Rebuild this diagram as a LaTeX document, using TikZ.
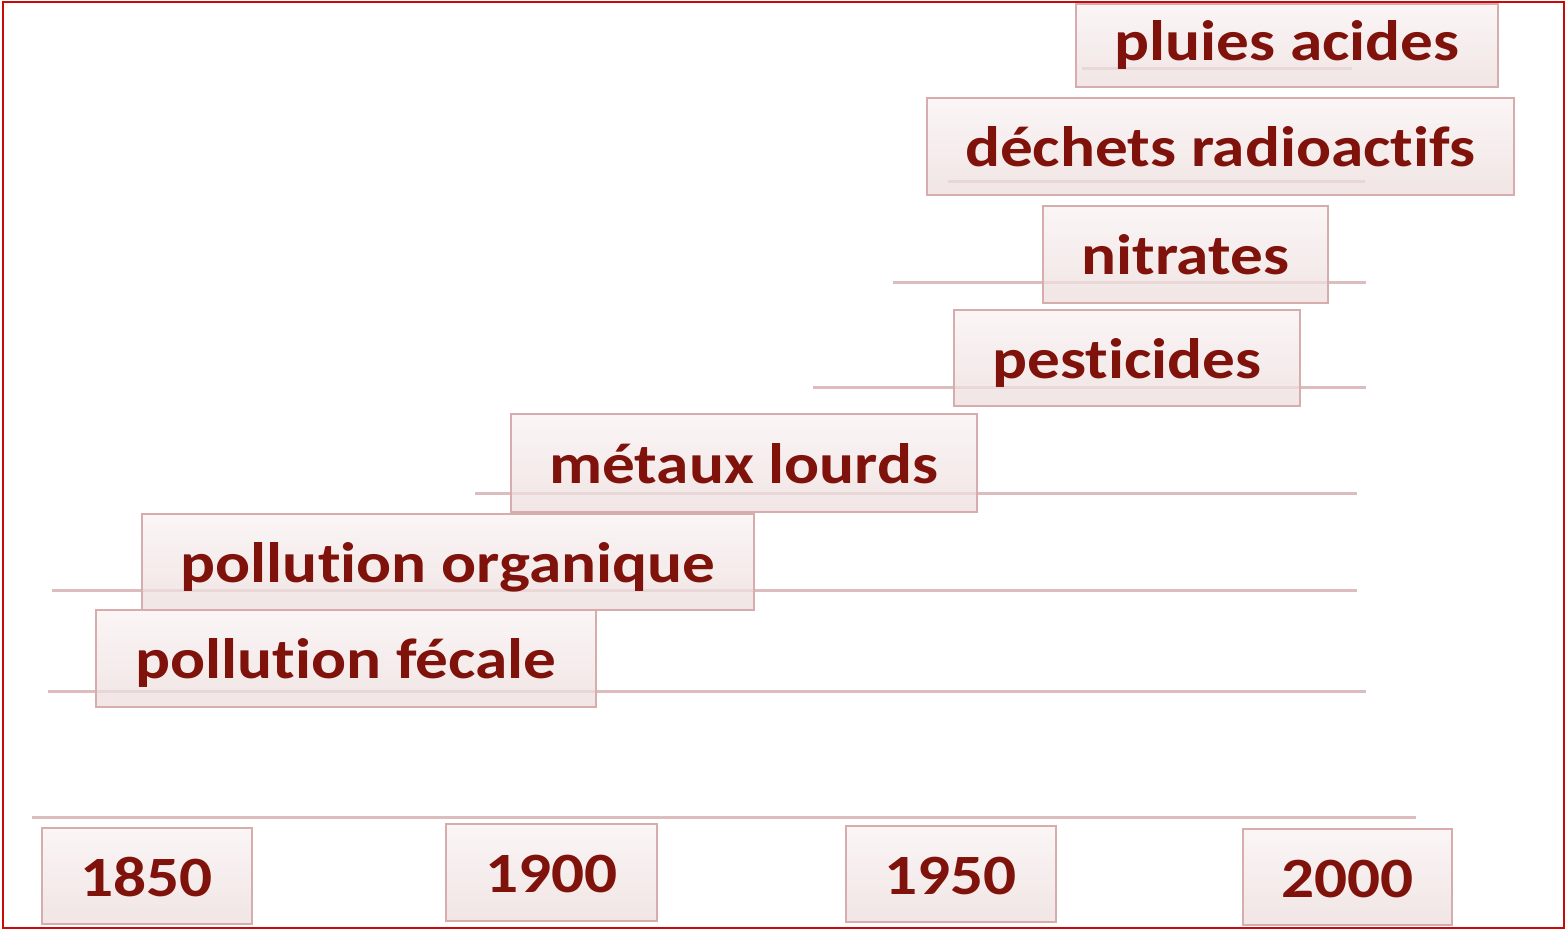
\documentclass[tikz,border=0pt]{standalone}
\usepackage{fontspec}
\setmainfont{Carlito}[FakeStretch=1.145, Ligatures=NoCommon]
\definecolor{txt}{RGB}{128,18,12}
\definecolor{boxborder}{RGB}{214,172,172}
\definecolor{topc}{RGB}{249,242,242}
\definecolor{botc}{RGB}{236,220,220}
\definecolor{linec}{RGB}{220,188,188}
\definecolor{framec}{RGB}{200,10,10}
\tikzset{
  lbl/.style={draw=boxborder, line width=1.6pt, top color=topc, bottom color=botc,
    fill opacity=0.75, draw opacity=1, text opacity=1, text=txt,
    font=\bfseries\fontsize{57}{60}\selectfont, inner sep=0pt,
    text height=47pt, text depth=6pt, anchor=north west, align=center},
  bar/.style={draw=linec, line width=3pt}
}
\begin{document}
\begin{tikzpicture}[x=1pt,y=-1pt]
\useasboundingbox (0,0) rectangle (1566,930);
% timeline bars (behind boxes)
\coordinate (a1) at (1082,68);  \coordinate (a2) at (1352,68);
\coordinate (b1) at (948,181);  \coordinate (b2) at (1365,181);
\coordinate (c1) at (893,282);  \coordinate (c2) at (1366,282);
\coordinate (d1) at (813,387);  \coordinate (d2) at (1366,387);
\coordinate (e1) at (475,493);  \coordinate (e2) at (1357,493);
\coordinate (f1) at (52,590);   \coordinate (f2) at (1357,590);
\coordinate (g1) at (48,691);   \coordinate (g2) at (1366,691);
\coordinate (t1) at (32,817);   \coordinate (t2) at (1416,817);
\foreach \s/\e in {a1/a2,b1/b2,c1/c2,d1/d2,e1/e2,f1/f2,g1/g2,t1/t2}
  \draw[bar] (\s) -- (\e);
% boxes
\node[lbl, minimum width=422pt, minimum height=83pt, text depth=16pt] (pluies) at (1075,3) {pluies acides};
\node[lbl, minimum width=587pt, minimum height=97pt] (dechets) at (926,97) {déchets radioactifs};
\node[lbl, minimum width=285pt, minimum height=97pt] (nitrates) at (1042,205) {nitrates};
\node[lbl, minimum width=346pt, minimum height=96pt] (pesticides) at (953,309) {pesticides};
\node[lbl, minimum width=466pt, minimum height=98pt] (metaux) at (510,413) {métaux lourds};
\node[lbl, minimum width=612pt, minimum height=96pt] (organique) at (141,513) {pollution organique};
\node[lbl, minimum width=500pt, minimum height=97pt] (fecale) at (95,609) {pollution fécale};
\node[lbl, minimum width=210pt, minimum height=96pt] (y1850) at (41,827) {1850};
\node[lbl, minimum width=211pt, minimum height=97pt] (y1900) at (445,823) {1900};
\node[lbl, minimum width=210pt, minimum height=96pt] (y1950) at (845,825) {1950};
\node[lbl, minimum width=209pt, minimum height=96pt] (y2000) at (1242,828) {2000};
% outer frame
\draw[framec, line width=2pt] (3,2) rectangle (1564,928);
\end{tikzpicture}
\end{document}
